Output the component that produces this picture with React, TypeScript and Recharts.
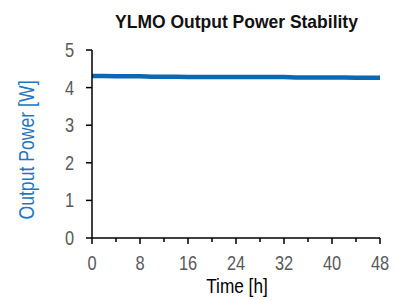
import { LineChart, Line, XAxis, YAxis } from "recharts";

const hours = [0, 2, 4, 6, 8, 10, 12, 14, 16, 18, 20, 22, 24, 26, 28, 30, 32, 34, 36, 38, 40, 42, 44, 46, 48];
const power = [4.31, 4.31, 4.30, 4.30, 4.30, 4.29, 4.29, 4.29, 4.28, 4.28, 4.28, 4.28, 4.28, 4.28, 4.28, 4.28, 4.28, 4.27, 4.27, 4.27, 4.27, 4.27, 4.26, 4.26, 4.26];
const xTicks = [0, 4, 8, 12, 16, 20, 24, 28, 32, 36, 40, 44, 48];
const yTicks = [0, 1, 2, 3, 4, 5];

const data = hours.map((h, i) => ({ t: h, p: power[i] }));

const font = "'Liberation Sans', Arial, sans-serif";
const narrow = 0.82;

// x ticks: long marks with labels every 8 h, short marks between
function XTick(props: any) {
    const { x, y, payload } = props;
    const major = payload.value % 8 === 0;
    return (
        <g>
            <line x1={x} x2={x} y1={y} y2={y + (major ? 6 : 4)} stroke="#000" strokeWidth={1.5} />
            {major && (
                <text
                    transform={`translate(${x},${y + 31.5}) scale(${narrow},1)`}
                    textAnchor="middle"
                    fill="#595959"
                    fontSize={20}
                    fontFamily={font}
                >
                    {payload.value}
                </text>
            )}
        </g>
    );
}

function YTick(props: any) {
    const { x, y, payload } = props;
    return (
        <g>
            <line x1={x - 6} x2={x} y1={y} y2={y} stroke="#000" strokeWidth={1.5} />
            <text
                transform={`translate(${x - 18},${y + 7}) scale(${narrow},1)`}
                textAnchor="end"
                fill="#595959"
                fontSize={20}
                fontFamily={font}
            >
                {payload.value}
            </text>
        </g>
    );
}

export default function App() {
    return (
        <div style={{ position: "absolute", left: 0, top: 0, width: 395, height: 300, background: "#fff" }}>
            <div
                style={{
                    position: "absolute",
                    left: 92,
                    width: 289,
                    top: 12,
                    lineHeight: "19px",
                    textAlign: "center",
                    fontFamily: font,
                    fontWeight: "bold",
                    fontSize: 19,
                    color: "#111",
                    transform: "scaleX(0.92)",
                }}
            >
                YLMO Output Power Stability
            </div>
            <LineChart width={395} height={300} data={data} margin={{ top: 50, right: 15, left: 0, bottom: 2 }}>
                <XAxis
                    dataKey="t"
                    type="number"
                    domain={[0, 48]}
                    ticks={xTicks}
                    interval={0}
                    height={60}
                    tickLine={false}
                    tickSize={0}
                    tickMargin={0}
                    stroke="#000"
                    strokeWidth={1.5}
                    tick={<XTick />}
                    label={() => (
                        <text
                            transform={`translate(237,293) scale(${narrow},1)`}
                            textAnchor="middle"
                            fill="#000"
                            fontSize={21}
                            fontFamily={font}
                        >
                            Time [h]
                        </text>
                    )}
                />
                <YAxis
                    domain={[0, 5]}
                    ticks={yTicks}
                    width={92}
                    tickLine={false}
                    tickSize={0}
                    tickMargin={0}
                    stroke="#000"
                    strokeWidth={1.5}
                    tick={<YTick />}
                    label={() => (
                        <text
                            transform={`translate(33.5,150) rotate(-90) scale(${narrow},1)`}
                            textAnchor="middle"
                            fill="#1f77c0"
                            fontSize={21.5}
                            fontFamily={font}
                        >
                            Output Power [W]
                        </text>
                    )}
                />
                <Line
                    dataKey="p"
                    type="linear"
                    stroke="#0b69b4"
                    strokeWidth={4.5}
                    dot={false}
                    isAnimationActive={false}
                />
            </LineChart>
        </div>
    );
}
